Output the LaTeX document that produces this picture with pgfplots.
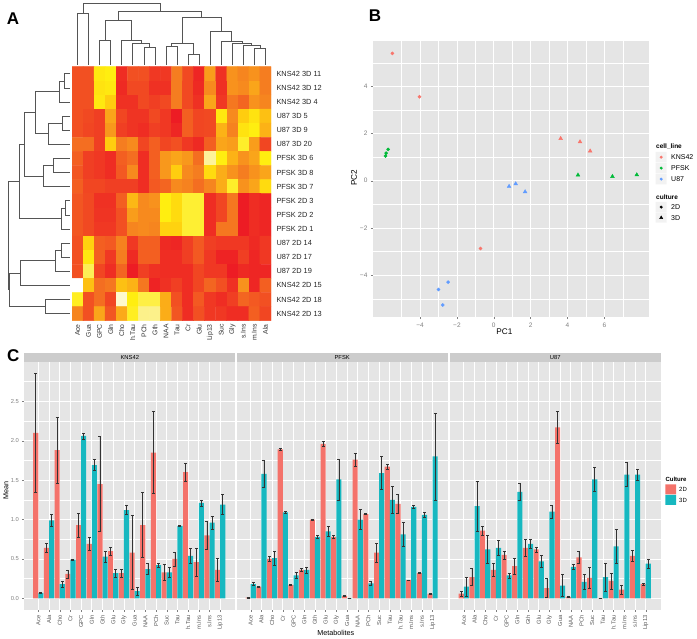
\documentclass[border=0pt]{standalone}
\usepackage{pgfplots}
\usepackage{pgfplotstable}
\usepackage{fontspec}
\setmainfont{Liberation Sans}
\pgfplotsset{compat=1.18}
\definecolor{ggbg}{HTML}{E5E5E5}
\definecolor{strip}{HTML}{CCCCCC}
\definecolor{keybg}{HTML}{F2F2F2}
\definecolor{tickc}{HTML}{7F7F7F}
\definecolor{c2d}{HTML}{F4726A}
\definecolor{c3d}{HTML}{17B8C0}
\definecolor{kns}{HTML}{F8766D}
\definecolor{pfsk}{HTML}{00BA38}
\definecolor{ueight}{HTML}{619CFF}
\definecolor{dend}{HTML}{555555}
\newcommand{\fs}[1]{\fontsize{#1}{#1}\selectfont}
\pgfplotsset{
  gg/.style={scale only axis, axis background/.style={fill=ggbg}, axis line style={draw=none},
    tick align=outside, xtick pos=left, ytick pos=left, grid=both,
    major grid style={white,line width=.7pt}, minor grid style={white,line width=.3pt},
    major tick length=1.8pt, minor tick length=0pt, tick style={tickc,line width=.4pt},
    tick label style={text=tickc}, clip=false,
    /pgf/number format/assume math mode=true},
  panelc/.style={gg, ybar=0pt, bar width=5.1pt, width=211pt, height=247.7pt,
    xmin=-1.31, xmax=18.41, ymin=-0.148, ymax=2.995,
    xtick={0,...,17},
    xticklabels={Ace,Ala,Cho,Cr,GPC,Gln,Gth,Glu,Gly,Gua,NAA,PCh,Suc,Tau,h.Tau,m.Ins,s.Ins,Lip13},
    xticklabel style={rotate=90,anchor=east,font=\fs{5.8},text=black!65},
    yticklabel style={font=\fs{5.8}},
    ytick={0,0.5,1,1.5,2,2.5}, minor ytick={0.25,0.75,1.25,1.75,2.25,2.75},
    title style={fill=strip,minimum width=211pt,minimum height=9pt,inner sep=0pt,
      anchor=south,at={(axis description cs:.5,1)},font=\fs{5.8},yshift=-6pt},
    label style={font=\fs{7.2}}},
  b2d/.style={fill=c2d,draw=none,error bars/.cd,y dir=both,y explicit,
    error bar style={black!80,line width=.7pt},
    error mark options={rotate=90,mark size=1.5pt,black!80,line width=.6pt}},
  b3d/.style={fill=c3d,draw=none,error bars/.cd,y dir=both,y explicit,
    error bar style={black!80,line width=.7pt},
    error mark options={rotate=90,mark size=1.5pt,black!80,line width=.6pt}},
  dd/.style={dend,line width=.7pt,line join=miter,no markers},
  colormap={heatc}{rgb255(0pt)=(237,28,36); rgb255(15pt)=(242,80,34); rgb255(30pt)=(245,125,32);
    rgb255(45pt)=(250,165,26); rgb255(60pt)=(255,205,15); rgb255(72pt)=(255,238,16);
    rgb255(85pt)=(252,240,130); rgb255(100pt)=(255,255,255)}
}
\pgfplotstableread{
i m2 e2 m3 e3
0 2.10 .755 .07 .01
1 .64 .06 .99 .08
2 1.88 .42 .18 .04
3 .31 .05 .49 .005
4 .93 .15 2.06 .04
5 .69 .08 1.69 .07
6 1.45 .60 .53 .07
7 .60 .05 .32 .05
8 .32 .05 1.12 .06
9 .58 .47 .09 .05
10 .93 .41 .37 .07
11 1.85 .52 .42 .03
12 .33 .10 .33 .06
13 .50 .09 .92 .01
14 1.60 .11 .54 .09
15 .46 .18 1.21 .04
16 .80 .18 .96 .08
17 .36 .15 1.19 .13
}\tkns
\pgfplotstableread{
i m2 e2 m3 e3
0 .01 .005 .18 .02
1 .15 .005 1.58 .17
2 .50 .03 .51 .09
3 1.89 .01 1.09 .01
4 .17 .005 .29 .04
5 .36 .015 .36 .04
6 1.00 .005 .78 .02
7 1.96 .03 .85 .06
8 .78 .02 1.51 .26
9 .03 .005 .003 .003
10 1.76 .08 1.00 .13
11 1.07 .005 .19 .03
12 .58 .12 1.59 .21
13 1.67 .03 1.25 .17
14 1.20 .12 .81 .15
15 .23 .005 1.16 .015
16 .32 .005 1.06 .03
17 .055 .005 1.80 .55
}\tpfsk
\pgfplotstableread{
i m2 e2 m3 e3
0 .06 .03 .15 .12
1 .27 .11 1.17 .32
2 .86 .06 .62 .18
3 .36 .08 .64 .10
4 .55 .05 .29 .03
5 .41 .10 1.35 .11
6 .64 .11 .69 .06
7 .62 .03 .47 .07
8 .13 .12 1.10 .08
9 2.17 .20 .16 .14
10 .02 .01 .40 .03
11 .52 .08 .21 .09
12 .26 .13 1.51 .15
13 .002 .002 .27 .18
14 .22 .10 .66 .21
15 .11 .06 1.57 .15
16 .54 .07 1.57 .07
17 .18 .01 .44 .06
}\tueight
\begin{document}
\begin{tikzpicture}[x=1pt,y=1pt]
\path[use as bounding box] (0,0) rectangle (697,639);
% ---- overlay in pixel coordinates: dendrograms, legends, panel letters
\begin{axis}[at={(0pt,0pt)},anchor=south west,scale only axis,width=697pt,height=639pt,
  xmin=0,xmax=697,ymin=0,ymax=639,y dir=reverse,axis lines=none,clip=false]
\addplot[dd] coordinates {(77.5,65)(77.5,13.7)(88.6,13.7)(88.6,65)};
\addplot[dd] coordinates {(99.6,65)(99.6,40.7)(110.7,40.7)(110.7,65)};
\addplot[dd] coordinates {(143.9,65)(143.9,47)(154.9,47)(154.9,65)};
\addplot[dd] coordinates {(132.8,65)(132.8,43.3)(149.4,43.3)(149.4,47)};
\addplot[dd] coordinates {(121.8,65)(121.8,40.7)(141.1,40.7)(141.1,43.3)};
\addplot[dd] coordinates {(105.1,40.7)(105.1,20)(131.5,20)(131.5,40.7)};
\addplot[dd] coordinates {(166,65)(166,46.7)(177,46.7)(177,65)};
\addplot[dd] coordinates {(188.1,65)(188.1,54.3)(199.2,54.3)(199.2,65)};
\addplot[dd] coordinates {(171.5,46.7)(171.5,43.3)(193.7,43.3)(193.7,54.3)};
\addplot[dd] coordinates {(254.4,65)(254.4,48.7)(265.5,48.7)(265.5,65)};
\addplot[dd] coordinates {(243.4,65)(243.4,45.7)(260,45.7)(260,48.7)};
\addplot[dd] coordinates {(232.3,65)(232.3,43.3)(251.7,43.3)(251.7,45.7)};
\addplot[dd] coordinates {(221.3,65)(221.3,41.3)(242,41.3)(242,43.3)};
\addplot[dd] coordinates {(210.2,65)(210.2,31.7)(231.7,31.7)(231.7,41.3)};
\addplot[dd] coordinates {(182.6,43.3)(182.6,17.3)(221,17.3)(221,31.7)};
\addplot[dd] coordinates {(118.3,20)(118.3,11)(201.8,11)(201.8,17.3)};
\addplot[dd] coordinates {(83,13.7)(83,3)(160,3)(160,11)};
\addplot[dd] coordinates {(70,73.8)(64,73.8)(64,87.9)(70,87.9)};
\addplot[dd] coordinates {(64,80.9)(59.3,80.9)(59.3,102)(70,102)};
\addplot[dd] coordinates {(70,116.1)(62,116.1)(62,130.2)(70,130.2)};
\addplot[dd] coordinates {(62,123.1)(48.3,123.1)(48.3,144.3)(70,144.3)};
\addplot[dd] coordinates {(59.3,91.4)(35.3,91.4)(35.3,133.7)(48.3,133.7)};
\addplot[dd] coordinates {(70,158.5)(53,158.5)(53,172.6)(70,172.6)};
\addplot[dd] coordinates {(53,165.5)(43.3,165.5)(43.3,186.7)(70,186.7)};
\addplot[dd] coordinates {(35.3,112.5)(24.7,112.5)(24.7,176)(43.3,176)};
\addplot[dd] coordinates {(70,200.8)(65.7,200.8)(65.7,214.9)(70,214.9)};
\addplot[dd] coordinates {(65.7,207.9)(61,207.9)(61,229)(70,229)};
\addplot[dd] coordinates {(24.7,144.3)(19.3,144.3)(19.3,218.4)(61,218.4)};
\addplot[dd] coordinates {(70,243.1)(61,243.1)(61,257.2)(70,257.2)};
\addplot[dd] coordinates {(61,250.1)(55,250.1)(55,271.3)(70,271.3)};
\addplot[dd] coordinates {(55,260.7)(20.7,260.7)(20.7,285.4)(70,285.4)};
\addplot[dd] coordinates {(70,299.5)(45,299.5)(45,313.6)(70,313.6)};
\addplot[dd] coordinates {(20.7,273)(9.3,273)(9.3,306.5)(45,306.5)};
\addplot[dd] coordinates {(19.3,181.4)(8.3,181.4)(8.3,289.7)(9.3,289.7)};
% legend keys, panel B
\addplot[fill=keybg,draw=none] coordinates {(655.7,152)(666.7,152)(666.7,162.5)(655.7,162.5)(655.7,152)};
\addplot[fill=keybg,draw=none] coordinates {(655.7,163)(666.7,163)(666.7,173.3)(655.7,173.3)(655.7,163)};
\addplot[fill=keybg,draw=none] coordinates {(655.7,174)(666.7,174)(666.7,184.3)(655.7,184.3)(655.7,174)};
\addplot[fill=keybg,draw=none] coordinates {(655.7,202)(666.7,202)(666.7,212.3)(655.7,212.3)(655.7,202)};
\addplot[fill=keybg,draw=none] coordinates {(655.7,212.7)(666.7,212.7)(666.7,222.7)(655.7,222.7)(655.7,212.7)};
\addplot[only marks,mark=*,mark size=1.3pt,kns] coordinates {(661.2,157.2)};
\addplot[only marks,mark=*,mark size=1.3pt,pfsk] coordinates {(661.2,168.1)};
\addplot[only marks,mark=*,mark size=1.3pt,ueight] coordinates {(661.2,179.1)};
\addplot[only marks,mark=*,mark size=1.3pt,black] coordinates {(661.2,207.1)};
\addplot[only marks,mark=triangle*,mark size=1.8pt,black] coordinates {(661.2,217.7)};
% legend keys, panel C
\addplot[fill=c2d,draw=none] coordinates {(665.3,484.3)(676,484.3)(676,494.5)(665.3,494.5)(665.3,484.3)};
\addplot[fill=c3d,draw=none] coordinates {(665.3,494.9)(676,494.9)(676,505)(665.3,505)(665.3,494.9)};
\node[anchor=west,inner sep=0pt,font=\fs{6.5}\bfseries] at (axis cs:656,146.7) {cell\_line};
\node[anchor=west,inner sep=0pt,font=\fs{7}] at (axis cs:671,157.2) {KNS42};
\node[anchor=west,inner sep=0pt,font=\fs{7}] at (axis cs:671,168.1) {PFSK};
\node[anchor=west,inner sep=0pt,font=\fs{7}] at (axis cs:671,179.1) {U87};
\node[anchor=west,inner sep=0pt,font=\fs{6.5}\bfseries] at (axis cs:656,196.7) {culture};
\node[anchor=west,inner sep=0pt,font=\fs{7}] at (axis cs:671,207.1) {2D};
\node[anchor=west,inner sep=0pt,font=\fs{7}] at (axis cs:671,217.7) {3D};
\node[anchor=west,inner sep=0pt,font=\fs{6}\bfseries] at (axis cs:665.3,479.7) {Culture};
\node[anchor=west,inner sep=0pt,font=\fs{6}] at (axis cs:679,489) {2D};
\node[anchor=west,inner sep=0pt,font=\fs{6}] at (axis cs:679,500) {3D};
\node[font=\fs{17}\bfseries,inner sep=0pt] at (axis cs:13,19) {A};
\node[font=\fs{17}\bfseries,inner sep=0pt] at (axis cs:375,16) {B};
\node[font=\fs{17}\bfseries,inner sep=0pt] at (axis cs:13.3,355.7) {C};
\end{axis}
% ---- A: heat map
\begin{axis}[at={(72pt,318.3pt)},anchor=south west,scale only axis,width=199pt,height=254pt,
  xmin=-0.5,xmax=17.5,ymin=-0.5,ymax=17.5,y dir=reverse,enlargelimits=false,
  colormap name=heatc,point meta min=0,point meta max=1,
  axis line style={draw=none},major tick length=0pt,
  xtick={0,...,17},ytick={0,...,17},xtick pos=left,ytick pos=right,yticklabel pos=right,
  xticklabels={Ace,Gua,GPC,Gln,Cho,h.Tau,PCh,Gth,NAA,Tau,Cr,Glu,Lip13,Suc,Gly,s.Ins,m.Ins,Ala},
  yticklabels={KNS42 3D 11,KNS42 3D 12,KNS42 3D 4,U87 3D 5,U87 3D 9,U87 3D 20,PFSK 3D 6,PFSK 3D 8,PFSK 3D 7,PFSK 2D 3,PFSK 2D 2,PFSK 2D 1,U87 2D 14,U87 2D 17,U87 2D 19,KNS42 2D 15,KNS42 2D 18,KNS42 2D 13},
  xticklabel style={rotate=90,anchor=east,font=\fs{6.8},xshift=0pt,text=black!80},
  yticklabel style={anchor=west,font=\fs{7.4},text=black!85,xshift=2pt}]
\addplot[matrix plot*,mesh/cols=18,point meta=\thisrowno{0}] table[row sep=\\,header=false,
  x expr={\coordindex-18*floor((\coordindex+0.5)/18)},y expr={floor((\coordindex+0.5)/18)}] {
.15\\ .15\\ .70\\ .72\\ .05\\ .15\\ .15\\ .08\\ .08\\ .30\\ .13\\ .03\\ .42\\ .06\\ .38\\ .33\\ .38\\ .30\\
.15\\ .15\\ .68\\ .70\\ .04\\ .13\\ .13\\ .06\\ .06\\ .30\\ .13\\ .04\\ .35\\ .06\\ .38\\ .35\\ .45\\ .30\\
.15\\ .15\\ .70\\ .60\\ .06\\ .06\\ .13\\ .10\\ .13\\ .30\\ .13\\ .06\\ .45\\ .08\\ .28\\ .22\\ .38\\ .33\\
.15\\ .13\\ .10\\ .45\\ .12\\ .07\\ .07\\ .13\\ .08\\ .00\\ .20\\ .12\\ .13\\ .70\\ .35\\ .60\\ .68\\ .55\\
.15\\ .12\\ .10\\ .40\\ .10\\ .07\\ .05\\ .10\\ .08\\ .03\\ .20\\ .12\\ .13\\ .50\\ .32\\ .68\\ .72\\ .50\\
.25\\ .25\\ .10\\ .60\\ .30\\ .35\\ .12\\ .20\\ .12\\ .15\\ .08\\ .04\\ .20\\ .45\\ .42\\ .75\\ .42\\ .12\\
.20\\ .10\\ .08\\ .05\\ .20\\ .25\\ .05\\ .20\\ .40\\ .45\\ .40\\ .25\\ .88\\ .72\\ .50\\ .38\\ .45\\ .72\\
.17\\ .10\\ .08\\ .05\\ .18\\ .35\\ .05\\ .20\\ .40\\ .60\\ .35\\ .30\\ .65\\ .48\\ .38\\ .30\\ .38\\ .45\\
.20\\ .12\\ .12\\ .10\\ .10\\ .10\\ .05\\ .18\\ .22\\ .35\\ .32\\ .25\\ .33\\ .48\\ .75\\ .38\\ .45\\ .65\\
.17\\ .13\\ .06\\ .06\\ .20\\ .52\\ .35\\ .38\\ .72\\ .65\\ .76\\ .76\\ .05\\ .12\\ .28\\ .00\\ .05\\ .03\\
.17\\ .13\\ .07\\ .07\\ .15\\ .42\\ .35\\ .35\\ .72\\ .65\\ .76\\ .76\\ .05\\ .12\\ .28\\ .00\\ .05\\ .03\\
.17\\ .13\\ .08\\ .08\\ .15\\ .33\\ .35\\ .33\\ .62\\ .62\\ .76\\ .76\\ .05\\ .28\\ .28\\ .00\\ .05\\ .03\\
.15\\ .62\\ .20\\ .18\\ .32\\ .08\\ .20\\ .20\\ .04\\ .03\\ .10\\ .18\\ .10\\ .08\\ .08\\ .08\\ .04\\ .08\\
.15\\ .70\\ .20\\ .08\\ .30\\ .04\\ .20\\ .20\\ .05\\ .05\\ .10\\ .18\\ .08\\ .02\\ .02\\ .10\\ .03\\ .08\\
.15\\ .80\\ .12\\ .05\\ .22\\ .00\\ .10\\ .06\\ .05\\ .05\\ .05\\ .12\\ .08\\ .08\\ .00\\ .04\\ .03\\ .03\\
1.0\\ .55\\ .25\\ .28\\ .55\\ .50\\ .28\\ .02\\ .06\\ .10\\ .05\\ .12\\ .22\\ .15\\ .06\\ .38\\ .03\\ .20\\
.74\\ .15\\ .25\\ .12\\ .94\\ .72\\ .78\\ .78\\ .48\\ .15\\ .05\\ .18\\ .08\\ .05\\ .10\\ .22\\ .18\\ .15\\
.33\\ .15\\ .45\\ .17\\ .47\\ .74\\ .86\\ .86\\ .48\\ .17\\ .05\\ .15\\ .08\\ .08\\ .05\\ .05\\ .20\\ .12\\
};
\end{axis}
% ---- B: PCA
\begin{axis}[gg,at={(372.7pt,321.7pt)},anchor=south west,width=276.6pt,height=276.6pt,
  xmin=-6.57,xmax=8.44,ymin=-5.79,ymax=5.94,
  xtick={-4,-2,0,2,4,6},xticklabels={−4,−2,0,2,4,6},minor xtick={-5,-3,-1,1,3,5,7},
  ytick={-4,-2,0,2,4},yticklabels={−4,−2,0,2,4},minor ytick={-5,-3,-1,1,3,5},
  tick label style={font=\fs{6.5}},
  xlabel={PC1},ylabel={PC2},label style={font=\fs{8.2}},
  xlabel style={at={(axis description cs:.476,-.052)},anchor=center},
  ylabel style={at={(axis description cs:-.0676,.505)},anchor=center}]
\addplot[only marks,mark=*,mark size=1.6pt,kns] coordinates {(-5.50,5.40)(-4.03,3.56)(-0.72,-2.87)};
\addplot[only marks,mark=triangle*,mark size=2.2pt,kns] coordinates {(3.63,1.79)(4.68,1.65)(5.23,1.26)};
\addplot[only marks,mark=*,mark size=1.6pt,pfsk] coordinates {(-5.73,1.33)(-5.84,1.17)(-5.88,1.05)};
\addplot[only marks,mark=triangle*,mark size=2.2pt,pfsk] coordinates {(4.57,0.24)(6.44,0.18)(7.76,0.25)};
\addplot[only marks,mark=*,mark size=1.6pt,ueight] coordinates {(-2.48,-4.30)(-3.00,-4.61)(-2.77,-5.27)};
\addplot[only marks,mark=triangle*,mark size=2.2pt,ueight] coordinates {(0.83,-0.24)(1.19,-0.13)(1.70,-0.47)};
\end{axis}
% ---- C: bars
\begin{axis}[panelc,at={(24.3pt,29pt)},anchor=south west,title={KNS42},
  yticklabels={0.0,0.5,1.0,1.5,2.0,2.5},ylabel={Mean},
  ylabel style={at={(axis description cs:-.0867,.4816)},anchor=center}]
\addplot[b2d] table[x=i,y=m2,y error=e2] {\tkns};
\addplot[b3d] table[x=i,y=m3,y error=e3] {\tkns};
\end{axis}
\begin{axis}[panelc,at={(236.7pt,29pt)},anchor=south west,title={PFSK},
  yticklabels={},ytick style={draw=none},xlabel={Metabolites},
  xlabel style={at={(axis description cs:.47,-.094)},anchor=center}]
\addplot[b2d] table[x=i,y=m2,y error=e2] {\tpfsk};
\addplot[b3d] table[x=i,y=m3,y error=e3] {\tpfsk};
\end{axis}
\begin{axis}[panelc,at={(449.8pt,29pt)},anchor=south west,title={U87},
  yticklabels={},ytick style={draw=none}]
\addplot[b2d] table[x=i,y=m2,y error=e2] {\tueight};
\addplot[b3d] table[x=i,y=m3,y error=e3] {\tueight};
\end{axis}
\end{tikzpicture}
\end{document}
